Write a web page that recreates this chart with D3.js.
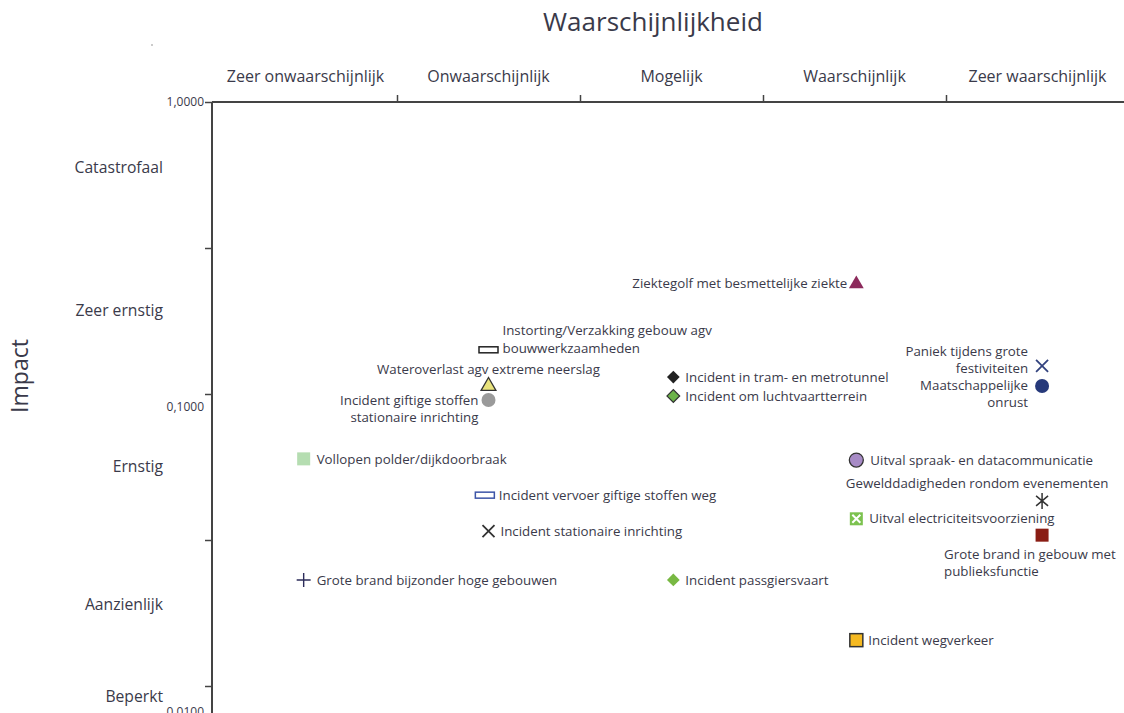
<!DOCTYPE html>
<html>
<head>
<meta charset="utf-8">
<script src="https://cdn.jsdelivr.net/npm/d3@7"></script>
<style>
  body { margin: 0; background: #fff; }
  svg { display: block; }
  text { font-family: "Open Sans", "Noto Sans", sans-serif; fill: #3a3a4a; }
</style>
</head>
<body>
<script>
// Risicodiagram - waarschijnlijkheid x impact
var probabilityLabels = ["Zeer onwaarschijnlijk", "Onwaarschijnlijk", "Mogelijk", "Waarschijnlijk", "Zeer waarschijnlijk"];
var impactLabels = ["Catastrofaal", "Zeer ernstig", "Ernstig", "Aanzienlijk", "Beperkt"];
var impactLabelPos = [0.45, 1.43, 2.5, 3.44, 4.07];   // where the class names sit (in class units)
var impactValueTicks = [1, 0.1, 0.01];

// scenarios
var riskNames = [
  "Ziektegolf met besmettelijke ziekte",
  "Instorting/Verzakking gebouw agv\nbouwwerkzaamheden",
  "Wateroverlast agv extreme neerslag",
  "Incident giftige stoffen\nstationaire inrichting",
  "Incident in tram- en metrotunnel",
  "Incident om luchtvaartterrein",
  "Paniek tijdens grote\nfestiviteiten",
  "Maatschappelijke\nonrust",
  "Vollopen polder/dijkdoorbraak",
  "Uitval spraak- en datacommunicatie",
  "Incident vervoer giftige stoffen weg",
  "Gewelddadigheden rondom evenementen",
  "Incident stationaire inrichting",
  "Uitval electriciteitsvoorziening",
  "Grote brand in gebouw met\npublieksfunctie",
  "Grote brand bijzonder hoge gebouwen",
  "Incident passgiersvaart",
  "Incident wegverkeer"
];
var riskProbability = [3.51, 1.50, 1.50, 1.50, 2.51, 2.51, 4.525, 4.525, 0.49, 3.51, 1.48, 4.525, 1.50, 3.51, 4.525, 0.49, 2.51, 3.51];
var riskImpact = [0.255, 0.154, 0.118, 0.1054, 0.1254, 0.1086, 0.1363, 0.1172, 0.0676, 0.067, 0.0514, 0.0492, 0.0392, 0.0430, 0.0380, 0.0271, 0.0271, 0.0172];
var riskShape = ["triangle", "rect", "triangle", "circle", "diamond", "diamond", "x", "circle", "square", "circle", "rect", "asterisk", "x", "squarex", "square", "plus", "diamond", "square"];
var riskFill = ["#8c2a5c", "#fff", "#e9e37c", "#9a9a9a", "#222", "#6cb34a", "none", "#26397a", "#b5ddb1", "#a78bc6", "#fff", "none", "none", "#7cc24f", "#8a1d14", "none", "#78b843", "#f5b921"];
var riskStroke = ["none", "#222", "#333", "none", "none", "#333", "#33437f", "none", "none", "#333", "#3d55a8", "#333", "#333", "none", "none", "#2d2d5a", "none", "#333"];
// label layout: [dx, dy, anchor]
var labelLayout = [
  [-9, 0, "end"], [14, -19, "start"], [0, -16, "middle"], [-10, 0, "end"],
  [12, 0, "start"], [12, 0, "start"], [-14, -15, "end"], [-14, -1, "end"],
  [13, 0, "start"], [14, 0, "start"], [14, 0, "start"], [-65, -18, "middle"],
  [12, 0, "start"], [13, 0, "start"], [-98, 19, "start"], [13, 0, "start"],
  [12, 0, "start"], [12, 0, "start"]
];

var width = 1124, height = 713;
var svg = d3.select("body").append("svg")
  .attr("width", width)
  .attr("height", height);

var x = d3.scaleLinear().domain([0, 5]).range([214, 1129]);
var yClass = d3.scaleLinear().domain([0, 5]).range([102, 832]);
var yValue = d3.scaleLog().domain([0.01, 1]).range([712, 102]);

var nl = d3.formatLocale({decimal: ",", thousands: ".", grouping: [3], currency: ["€", ""]});
var fmt = nl.format(".4f");

// titles
svg.append("text")
  .attr("x", 653).attr("y", 31)
  .attr("text-anchor", "middle")
  .style("font-size", "26px")
  .text("Waarschijnlijkheid");
svg.append("text")
  .attr("transform", "translate(28,376) rotate(-90)")
  .attr("text-anchor", "middle")
  .style("font-size", "23px")
  .text("Impact");
// stray dot from the original
svg.append("circle").attr("cx", 152).attr("cy", 45).attr("r", 0.8).style("fill", "#888");

// top axis (class boundaries)
var topAxis = svg.append("g")
  .attr("transform", "translate(0,102)")
  .call(d3.axisTop(x).tickValues([1, 2, 3, 4]).tickSize(7).tickSizeOuter(0).tickFormat(""));
topAxis.select(".domain").attr("d", "M212,0H1124");
topAxis.selectAll("line").style("stroke", "#444").style("stroke-width", 1.5);
topAxis.select(".domain").style("stroke", "#444").style("stroke-width", 2);

svg.selectAll(".probLabel")
  .data(probabilityLabels)
  .enter()
  .append("text")
  .attr("class", "probLabel")
  .attr("x", function(d, i){ return x(i + 0.5); })
  .attr("y", 82)
  .attr("text-anchor", "middle")
  .style("font-size", "16px")
  .text(function(d){ return d; });

// left axis (impact classes)
var leftAxis = svg.append("g")
  .attr("transform", "translate(212,0)")
  .call(d3.axisLeft(yClass).tickValues([0, 1, 2, 3, 4]).tickSize(7).tickSizeOuter(0).tickFormat(""));
leftAxis.select(".domain").attr("d", "M0,102V713");
leftAxis.selectAll("line").style("stroke", "#444").style("stroke-width", 1.5);
leftAxis.select(".domain").style("stroke", "#444").style("stroke-width", 2);

svg.selectAll(".impactLabel")
  .data(impactLabels)
  .enter()
  .append("text")
  .attr("class", "impactLabel")
  .attr("x", 163)
  .attr("y", function(d, i){ return yClass(impactLabelPos[i]); })
  .attr("dy", "0.35em")
  .attr("text-anchor", "end")
  .style("font-size", "15.7px")
  .text(function(d){ return d; });

svg.selectAll(".valueLabel")
  .data(impactValueTicks)
  .enter()
  .append("text")
  .attr("class", "valueLabel")
  .attr("x", 204)
  .attr("y", function(d){ return yValue(d); })
  .attr("dy", "0.35em")
  .attr("text-anchor", "end")
  .style("font-size", "12px")
  .text(function(d){ return fmt(d); });

// markers
var risks = riskNames.map(function(n, i){
  return {name: n, p: riskProbability[i], v: riskImpact[i], shape: riskShape[i],
          fill: riskFill[i], stroke: riskStroke[i], lab: labelLayout[i]};
});

var marks = svg.selectAll(".risk")
  .data(risks)
  .enter()
  .append("g")
  .attr("class", "risk")
  .attr("transform", function(d){ return "translate(" + x(d.p) + "," + yValue(d.v) + ")"; });

marks.each(function(d){
  var g = d3.select(this);
  if (d.shape == "triangle"){
    g.append("path")
      .attr("d", d3.symbol(d3.symbolTriangle, 95)())
      .attr("transform", "translate(0,1)")
      .style("fill", d.fill).style("stroke", d.stroke).style("stroke-width", 1.3);
  } else if (d.shape == "circle"){
    g.append("circle").attr("r", 7)
      .style("fill", d.fill).style("stroke", d.stroke).style("stroke-width", 1.3);
  } else if (d.shape == "diamond"){
    g.append("rect").attr("x", -4.5).attr("y", -4.5).attr("width", 9).attr("height", 9)
      .attr("transform", "rotate(45)")
      .style("fill", d.fill).style("stroke", d.stroke).style("stroke-width", 1.2);
  } else if (d.shape == "square"){
    g.append("rect").attr("x", -6.5).attr("y", -6.5).attr("width", 13).attr("height", 13)
      .style("fill", d.fill).style("stroke", d.stroke).style("stroke-width", 1.5);
  } else if (d.shape == "squarex"){
    g.append("rect").attr("x", -6.5).attr("y", -6.5).attr("width", 13).attr("height", 13)
      .style("fill", d.fill);
    g.append("path").attr("d", "M-4,-4L4,4M4,-4L-4,4")
      .style("stroke", "#fff").style("stroke-width", 2);
  } else if (d.shape == "rect"){
    g.append("rect").attr("x", -9.5).attr("y", -3).attr("width", 19).attr("height", 6)
      .style("fill", d.fill).style("stroke", d.stroke).style("stroke-width", 1.5);
  } else if (d.shape == "x"){
    g.append("path").attr("d", "M-6,-6L6,6M6,-6L-6,6")
      .style("stroke", d.stroke).style("stroke-width", 1.8);
  } else if (d.shape == "plus"){
    g.append("path").attr("d", "M-7,0H7M0,-7V7")
      .style("stroke", d.stroke).style("stroke-width", 1.4);
  } else if (d.shape == "asterisk"){
    g.append("path").attr("d", "M-6,-5L6,5M6,-5L-6,5M0,-8V8")
      .style("stroke", d.stroke).style("stroke-width", 1.5);
  }
});

// labels
marks.each(function(d){
  var lines = d.name.split("\n");
  var t = d3.select(this).append("text")
    .attr("text-anchor", d.lab[2])
    .style("font-size", "13.3px");
  lines.forEach(function(line, k){
    t.append("tspan")
      .attr("x", d.lab[0])
      .attr("y", d.lab[1] + k * 17.5)
      .attr("dy", "0.35em")
      .text(line);
  });
});
</script>
</body>
</html>
